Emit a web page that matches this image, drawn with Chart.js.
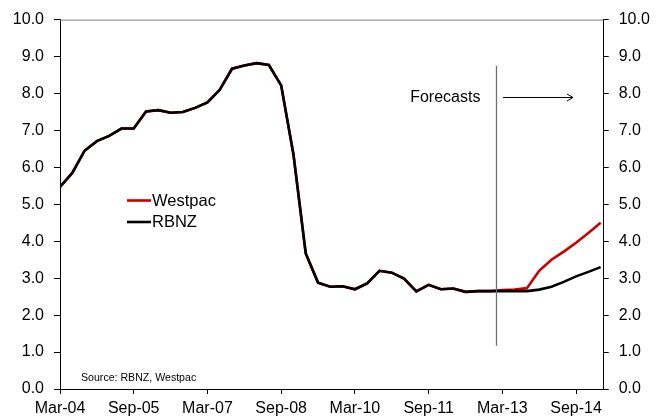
<!DOCTYPE html>
<html>
<head>
<meta charset="utf-8">
<script src="https://cdn.jsdelivr.net/npm/chart.js@4"></script>
<style>
html,body{margin:0;padding:0;background:#fff;}
#wrap{width:662px;height:419px;}
</style>
</head>
<body>
<div id="wrap"><canvas id="c" width="662" height="419"></canvas></div>
<script>
// ---- data ----
const categories = [
  'Mar-04','Jun-04','Sep-04','Dec-04','Mar-05','Jun-05','Sep-05','Dec-05',
  'Mar-06','Jun-06','Sep-06','Dec-06','Mar-07','Jun-07','Sep-07','Dec-07',
  'Mar-08','Jun-08','Sep-08','Dec-08','Mar-09','Jun-09','Sep-09','Dec-09',
  'Mar-10','Jun-10','Sep-10','Dec-10','Mar-11','Jun-11','Sep-11','Dec-11',
  'Mar-12','Jun-12','Sep-12','Dec-12','Mar-13','Jun-13','Sep-13','Dec-13',
  'Mar-14','Jun-14','Sep-14','Dec-14','Mar-15'
];
const rbnz = [
  5.47, 5.85, 6.45, 6.71, 6.85, 7.05, 7.05, 7.51,
  7.55, 7.48, 7.50, 7.61, 7.76, 8.10, 8.67, 8.76,
  8.82, 8.77, 8.22, 6.35, 3.67, 2.88, 2.77, 2.78,
  2.70, 2.86, 3.20, 3.15, 2.99, 2.64, 2.82, 2.70,
  2.72, 2.63, 2.65, 2.65, 2.65, 2.65, 2.65, 2.69,
  2.77, 2.90, 3.05, 3.17, 3.30
];
const westpac = [
  5.47, 5.85, 6.45, 6.71, 6.85, 7.05, 7.05, 7.51,
  7.55, 7.48, 7.50, 7.61, 7.76, 8.10, 8.67, 8.76,
  8.82, 8.77, 8.22, 6.35, 3.67, 2.88, 2.77, 2.78,
  2.70, 2.86, 3.20, 3.15, 2.99, 2.64, 2.82, 2.70,
  2.72, 2.63, 2.65, 2.65, 2.68, 2.69, 2.73, 3.20,
  3.50, 3.72, 3.96, 4.22, 4.50
];
const seriesNames = ['Westpac', 'RBNZ'];
const yTicks = [0, 1, 2, 3, 4, 5, 6, 7, 8, 9, 10];
const xLabelStep = 6;
const xMax = 44.25;
// forecast marker (in data units)
const forecastX = 35.45;
const forecastYRange = [1.17, 8.75];
const forecastText = 'Forecasts';
const forecastTextX = 28.5;
const forecastTextY = 7.9;
const arrowXRange = [36.05, 41.75];
const sourceText = 'Source: RBNZ, Westpac';

const RED = '#cc0000';
const BLACK = '#000000';
const FONT = '"Liberation Sans", Arial, sans-serif';

const toXY = arr => arr.map((v, i) => ({x: i, y: v}));

const overlay = {
  id: 'overlay',
  beforeDatasetsDraw(chart) {
    const ctx = chart.ctx, a = chart.chartArea;
    ctx.save();
    ctx.strokeStyle = '#808080';
    ctx.lineWidth = 1;
    ctx.beginPath();
    ctx.moveTo(a.left, a.top + 0.5);
    ctx.lineTo(a.right, a.top + 0.5);
    ctx.stroke();
    ctx.restore();
  },
  afterDatasetsDraw(chart) {
    const ctx = chart.ctx, xs = chart.scales.x, ys = chart.scales.y;
    ctx.save();
    // forecast vertical line
    const fx = Math.round(xs.getPixelForValue(forecastX)) + 0.5;
    ctx.strokeStyle = '#707070';
    ctx.lineWidth = 1.3;
    ctx.beginPath();
    ctx.moveTo(fx, ys.getPixelForValue(forecastYRange[0]));
    ctx.lineTo(fx, ys.getPixelForValue(forecastYRange[1]));
    ctx.stroke();
    // text
    ctx.fillStyle = BLACK;
    ctx.font = '16px ' + FONT;
    ctx.textBaseline = 'middle';
    ctx.textAlign = 'left';
    ctx.fillText(forecastText, xs.getPixelForValue(forecastTextX), ys.getPixelForValue(forecastTextY));
    // arrow
    const ay = Math.round(ys.getPixelForValue(forecastTextY)) + 0.5;
    const ax0 = xs.getPixelForValue(arrowXRange[0]);
    const ax1 = xs.getPixelForValue(arrowXRange[1]);
    ctx.strokeStyle = BLACK;
    ctx.lineWidth = 1;
    ctx.beginPath();
    ctx.moveTo(ax0, ay);
    ctx.lineTo(ax1, ay);
    ctx.moveTo(ax1 - 6, ay - 3.5);
    ctx.lineTo(ax1, ay);
    ctx.lineTo(ax1 - 6, ay + 3.5);
    ctx.stroke();
    // legend
    const legendColors = [RED, BLACK];
    const lx = 127, ly = [200.5, 222];
    ctx.font = '16.5px ' + FONT;
    ctx.textAlign = 'left';
    for (let i = 0; i < seriesNames.length; i++) {
      ctx.strokeStyle = legendColors[i];
      ctx.lineWidth = 2.6;
      ctx.beginPath();
      ctx.moveTo(lx, ly[i]);
      ctx.lineTo(lx + 24, ly[i]);
      ctx.stroke();
      ctx.fillStyle = BLACK;
      ctx.fillText(seriesNames[i], lx + 25, ly[i] + 0.5);
    }
    // source
    ctx.font = '10.6px ' + FONT;
    ctx.fillText(sourceText, 81, 378);
    ctx.restore();
  }
};

const yTickCfg = {
  color: BLACK,
  font: {family: FONT, size: 16},
  callback: v => Number(v).toFixed(1)
};

new Chart(document.getElementById('c'), {
  type: 'line',
  data: {
    datasets: [
      {label: seriesNames[1], data: toXY(rbnz), borderColor: BLACK, borderWidth: 2.6, pointRadius: 0, tension: 0, order: 0},
      {label: seriesNames[0], data: toXY(westpac), borderColor: RED, borderWidth: 2.6, pointRadius: 0, tension: 0, order: 1}
    ]
  },
  options: {
    responsive: false,
    animation: false,
    devicePixelRatio: 1,
    layout: {padding: {top: 19, left: 0, right: 0, bottom: 0}},
    plugins: {legend: {display: false}, tooltip: {enabled: false}},
    scales: {
      x: {
        type: 'linear',
        min: 0,
        max: xMax,
        afterFit: s => { s.height = 30; },
        afterBuildTicks: s => { s.ticks = categories.map((c, i) => ({value: i})).filter(t => t.value % xLabelStep === 0); },
        ticks: {
          color: BLACK,
          font: {family: FONT, size: 16},
          padding: 5,
          maxRotation: 0,
          autoSkip: false,
          callback: v => categories[v]
        },
        grid: {drawOnChartArea: false, drawTicks: true, tickLength: 5, color: BLACK},
        border: {color: BLACK, width: 1}
      },
      y: {
        position: 'left',
        min: 0, max: 10,
        afterFit: s => { s.width = 60; },
        afterBuildTicks: s => { s.ticks = yTicks.map(v => ({value: v})); },
        ticks: Object.assign({padding: 10}, yTickCfg),
        grid: {drawOnChartArea: false, drawTicks: true, tickLength: 6, color: BLACK},
        border: {color: BLACK, width: 1}
      },
      y2: {
        position: 'right',
        min: 0, max: 10,
        afterFit: s => { s.width = 58.3; },
        afterBuildTicks: s => { s.ticks = yTicks.map(v => ({value: v})); },
        ticks: Object.assign({padding: 10}, yTickCfg),
        grid: {drawOnChartArea: false, drawTicks: true, tickLength: 5, color: BLACK},
        border: {color: BLACK, width: 1}
      }
    }
  },
  plugins: [overlay]
});
</script>
</body>
</html>
